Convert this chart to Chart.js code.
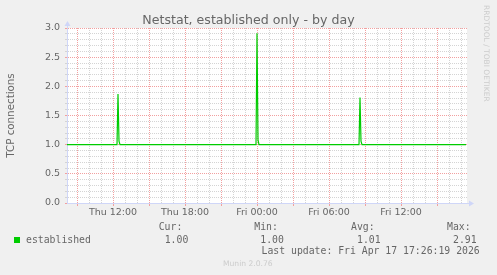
<!DOCTYPE html>
<html>
<head>
<meta charset="utf-8">
<title>Netstat, established only - by day</title>
<script src="https://cdn.jsdelivr.net/npm/chart.js@4.4.1/dist/chart.umd.min.js"></script>
<style>
  html, body { margin: 0; padding: 0; background: #F0F0F0; }
  #wrap { position: relative; width: 497px; height: 275px; overflow: hidden; }
  #chart { position: absolute; left: 0; top: 0; }
  .title { position: absolute; left: 0; top: 11.5px; width: 497px; text-align: center; font-family: "DejaVu Sans", sans-serif; font-size: 12.6px; line-height: 15px; color: #666; white-space: nowrap; }
  .mono { position: absolute; font-family: "DejaVu Sans Mono", monospace; font-size: 9.8px; line-height: 12px; color: #666; white-space: pre; }
  .swatch { position: absolute; left: 14px; top: 237px; width: 6px; height: 6px; background: #00CC00; }
  .credit { position: absolute; left: 482px; top: 5px; writing-mode: vertical-rl; font-family: "DejaVu Sans", sans-serif; font-size: 7.5px; line-height: 9px; color: #CCCCCC; white-space: nowrap; }
  .version { position: absolute; left: 223px; top: 259px; font-family: "DejaVu Sans", sans-serif; font-size: 7.6px; line-height: 10px; color: #CCCCCC; white-space: nowrap; }
</style>
</head>
<body>
<div id="wrap">
  <canvas id="chart" width="497" height="275"></canvas>
  <div class="title">Netstat, established only - by day</div>
  <div class="credit">RRDTOOL / TOBI OETIKER</div>
  <div class="swatch"></div>
  <div class="mono" style="left:26px; top:233.5px;">established</div>
  <div id="stats"></div>
  <div class="mono" style="left:261.5px; top:245px;">Last update: Fri Apr 17 17:26:19 2026</div>
  <div class="version">Munin 2.0.76</div>
</div>
<script>
// samples (5 minute steps, only where the value changes)
const times = ['Thu 08:10', 'Thu 12:20', 'Thu 12:25', 'Thu 12:30', 'Thu 12:35',
               'Thu 23:55', 'Fri 00:00', 'Fri 00:05', 'Fri 00:10',
               'Fri 08:30', 'Fri 08:35', 'Fri 08:40', 'Fri 08:45', 'Fri 17:25'];
const established = [1.00, 1.00, 1.87, 1.06, 1.00,
                     1.00, 2.91, 1.08, 1.00,
                     1.00, 1.81, 1.06, 1.00, 1.00];

const xTickLabels = ['Thu 12:00', 'Thu 18:00', 'Fri 00:00', 'Fri 06:00', 'Fri 12:00'];
const yTickLabels = ['0.0', '0.5', '1.0', '1.5', '2.0', '2.5', '3.0'];

const statNames = ['Cur:', 'Min:', 'Avg:', 'Max:'];
const statValues = ['1.00', '1.00', '1.01', '2.91'];
const statLeft = [158.7, 254.3, 351, 447];

const xStart = 'Thu 08:10';
const xEnd = 'Fri 17:30';

// hours since Thu 00:00
function toHours(label) {
    const [day, hm] = label.split(' ');
    const [h, m] = hm.split(':').map(Number);
    return (day === 'Fri' ? 24 : 0) + h + m / 60;
}

const MAJOR = 'rgb(242, 160, 160)';
const MINOR = 'rgb(212, 212, 212)';
const AXIS = '#CFD6F8';
const FONT = '#666666';

// stats block under the chart
const stats = document.getElementById('stats');
statNames.forEach((name, i) => {
    stats.insertAdjacentHTML('beforeend',
        '<div class="mono" style="left:' + statLeft[i] + 'px; top:221px;">' + name + '</div>' +
        '<div class="mono" style="left:' + (statLeft[i] + 6) + 'px; top:233.5px;">' + statValues[i] + '</div>');
});

// white canvas behind the plot + axis arrows
const munin = {
    id: 'munin',
    beforeDraw(chart) {
        const {ctx, chartArea: a} = chart;
        ctx.save();
        ctx.fillStyle = '#FFFFFF';
        ctx.fillRect(a.left, a.top, a.right - a.left, a.bottom - a.top);
        ctx.restore();
    },
    afterDraw(chart) {
        const {ctx, chartArea: a} = chart;
        const x0 = Math.round(a.left) + 0.5;
        const y0 = Math.round(a.bottom) + 0.5;
        ctx.save();
        ctx.strokeStyle = AXIS;
        ctx.fillStyle = AXIS;
        ctx.lineWidth = 1;
        ctx.beginPath();
        ctx.moveTo(x0, a.top);
        ctx.lineTo(x0, a.top - 4);
        ctx.moveTo(a.right, y0);
        ctx.lineTo(a.right + 2, y0);
        ctx.stroke();
        ctx.beginPath();
        ctx.moveTo(x0 - 3, a.top - 2);
        ctx.lineTo(x0 + 3, a.top - 2);
        ctx.lineTo(x0, a.top - 7);
        ctx.closePath();
        ctx.fill();
        ctx.beginPath();
        ctx.moveTo(a.right + 2, y0 - 3);
        ctx.lineTo(a.right + 2, y0 + 3);
        ctx.lineTo(a.right + 7, y0);
        ctx.closePath();
        ctx.fill();
        ctx.restore();
    }
};

const ctx = document.getElementById('chart').getContext('2d');
new Chart(ctx, {
    type: 'line',
    data: {
        datasets: [{
            label: 'established',
            data: times.map((t, i) => ({x: toHours(t), y: established[i]})),
            borderColor: '#00CC00',
            borderWidth: 1.2,
            pointRadius: 0,
            tension: 0,
            fill: false
        }]
    },
    options: {
        responsive: false,
        animation: false,
        devicePixelRatio: 1,
        layout: {
            padding: {left: 0, right: 30, top: 28, bottom: 52}
        },
        plugins: {
            legend: {display: false},
            tooltip: {enabled: false},
            title: {display: false}
        },
        scales: {
            x: {
                type: 'linear',
                min: toHours(xStart),
                max: toHours(xEnd),
                afterFit: scale => { scale.height = 20; },
                afterBuildTicks: scale => {
                    const ticks = [];
                    for (let h = Math.ceil(scale.min); h <= scale.max; h++) ticks.push({value: h});
                    scale.ticks = ticks;
                },
                grid: {
                    color: c => (c.tick && c.tick.value % 3 === 0) ? MAJOR : MINOR,
                    tickColor: c => (c.tick && c.tick.value % 3 === 0) ? MAJOR : 'rgba(0,0,0,0)',
                    lineWidth: 1,
                    tickLength: 3
                },
                border: {color: AXIS, width: 1, dash: [1, 1]},
                ticks: {
                    autoSkip: false,
                    maxRotation: 0,
                    padding: 1,
                    color: FONT,
                    font: {family: '"DejaVu Sans", sans-serif', size: 9.5},
                    callback: value => {
                        const hit = xTickLabels.find(l => Math.abs(toHours(l) - value) < 1e-6);
                        return hit || '';
                    }
                }
            },
            y: {
                min: 0,
                max: 3,
                afterFit: scale => { scale.width = 67; },
                afterBuildTicks: scale => {
                    const ticks = [];
                    for (let i = 0; i <= 30; i++) ticks.push({value: i / 10});
                    scale.ticks = ticks;
                },
                grid: {
                    color: c => (c.tick && Math.round(c.tick.value * 10) % 5 === 0) ? MAJOR : MINOR,
                    tickColor: c => (c.tick && Math.round(c.tick.value * 10) % 5 === 0) ? MAJOR : MINOR,
                    lineWidth: 1,
                    tickLength: 2
                },
                border: {color: AXIS, width: 1, dash: [1, 1]},
                title: {
                    display: true,
                    text: 'TCP connections',
                    color: FONT,
                    font: {family: '"DejaVu Sans", sans-serif', size: 10.3},
                    padding: {top: 5, bottom: 0}
                },
                ticks: {
                    autoSkip: false,
                    padding: 5,
                    color: FONT,
                    font: {family: '"DejaVu Sans", sans-serif', size: 9.5},
                    callback: value => {
                        const hit = yTickLabels.find(l => Math.abs(parseFloat(l) - value) < 1e-6);
                        return hit || '';
                    }
                }
            }
        }
    },
    plugins: [munin]
});
</script>
</body>
</html>
